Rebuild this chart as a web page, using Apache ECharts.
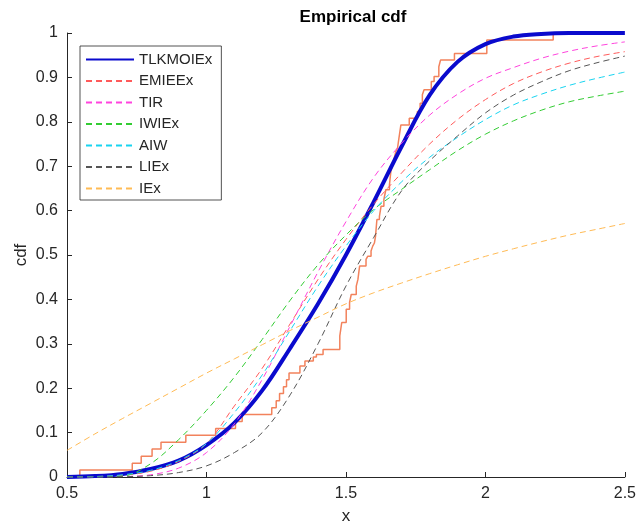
<!DOCTYPE html>
<html><head><meta charset="utf-8">
<script src="https://cdn.jsdelivr.net/npm/echarts@6/dist/echarts.min.js"></script>
<style>html,body{margin:0;padding:0;background:#fff}#c{width:639px;height:530px}</style>
</head><body><div id="c"></div>
<script>
// ---- data ----
const xGrid = [0.5,0.6,0.7,0.8,0.9,1.0,1.1,1.2,1.3,1.4,1.5,1.6,1.7,1.8,1.9,2.0,2.1,2.2,2.3,2.4,2.5];
const tlkmoiex = [0.000,0.002,0.007,0.018,0.037,0.072,0.122,0.195,0.290,0.390,0.500,0.620,0.745,0.860,0.935,0.975,0.992,0.998,1.0,1.0,1.0];
const emieex   = [0.000,0.001,0.004,0.013,0.035,0.075,0.160,0.245,0.345,0.445,0.535,0.615,0.685,0.750,0.805,0.850,0.886,0.912,0.932,0.947,0.958];
const tir      = [0.000,0.000,0.001,0.005,0.020,0.055,0.120,0.220,0.340,0.462,0.575,0.675,0.752,0.815,0.862,0.898,0.922,0.943,0.959,0.971,0.980];
const iwiex    = [0.000,0.000,0.002,0.030,0.084,0.150,0.225,0.310,0.398,0.478,0.545,0.603,0.648,0.692,0.735,0.772,0.802,0.826,0.845,0.858,0.869];
const aiw      = [0.000,0.001,0.005,0.015,0.037,0.075,0.145,0.230,0.330,0.430,0.520,0.600,0.665,0.720,0.765,0.805,0.838,0.862,0.882,0.898,0.912];
const liex     = [0.000,0.000,0.0005,0.003,0.010,0.025,0.055,0.100,0.185,0.300,0.430,0.540,0.645,0.712,0.768,0.820,0.860,0.890,0.915,0.933,0.948];
const iex      = [0.060,0.097,0.132,0.166,0.200,0.234,0.266,0.298,0.330,0.360,0.390,0.415,0.437,0.458,0.478,0.497,0.514,0.530,0.545,0.558,0.571];
// empirical cdf step points: x and cdf level after x
const ecdfX = [0.546,0.546,0.734,0.766,0.805,0.837,0.926,1.033,1.104,1.128,1.234,1.250,1.262,1.276,1.287,1.296,1.335,1.353,1.383,1.394,1.418,1.478,1.485,1.501,1.513,1.519,1.537,1.543,1.549,1.572,1.578,1.590,1.596,1.602,1.606,1.611,1.620,1.626,1.636,1.643,1.656,1.661,1.667,1.673,1.679,1.685,1.690,1.697,1.727,1.756,1.766,1.774,1.780,1.806,1.816,1.833,1.839,1.889,2.005,2.243];
const ecdfY = [0,0.016,0.031,0.047,0.063,0.078,0.094,0.109,0.125,0.141,0.156,0.172,0.188,0.203,0.219,0.234,0.250,0.261,0.270,0.276,0.287,0.318,0.348,0.378,0.393,0.411,0.430,0.445,0.475,0.490,0.497,0.509,0.520,0.527,0.542,0.580,0.587,0.610,0.625,0.647,0.658,0.688,0.703,0.718,0.733,0.741,0.763,0.793,0.808,0.823,0.842,0.861,0.872,0.891,0.902,0.924,0.939,0.954,0.984,1.000];
const legendNames = ['TLKMOIEx','EMIEEx','TIR','IWIEx','AIW','LIEx','IEx'];
const curveData = [tlkmoiex, emieex, tir, iwiex, aiw, liex, iex];
const colors = ['#0a0acd','#ff5a5a','#ff44dd','#33cc33','#18d4f0','#555555','#ffbb55'];

const FONT = "'Liberation Sans', Arial, Helvetica, sans-serif";
const TXT = '#262626';
function pairs(ys){ return xGrid.map((x,i)=>[x, ys[i]]); }

const series = [{
  name: 'ecdf', type: 'line', step: 'end', symbol: 'none', silent: true, z: 1,
  data: ecdfX.map((x,i)=>[x, ecdfY[i]]),
  lineStyle: {color: '#f2825c', width: 1.5}
}];
curveData.forEach((d,i)=>{
  series.push({
    name: legendNames[i], type: 'line', smooth: 0.35,
    symbol: 'none', showSymbol: false, z: i === 0 ? 2 : 3,
    data: pairs(d),
    itemStyle: {color: colors[i]},
    lineStyle: i === 0 ? {color: colors[i], width: 4} : {color: colors[i], width: 1, type: [6,4]}
  });
});

const chart = echarts.init(document.getElementById('c'), null, {renderer: 'canvas'});
chart.setOption({
  animation: false,
  backgroundColor: '#fff',
  textStyle: {fontFamily: FONT},
  title: {text: 'Empirical cdf', left: 348, textAlign: 'center', top: 4,
    textStyle: {fontFamily: FONT, fontSize: 17, fontWeight: 'bold', color: '#000'}},
  grid: {left: 67, right: 10, top: 33, bottom: 52},
  legend: {
    data: legendNames, orient: 'vertical', left: 80, top: 46,
    itemWidth: 48, itemHeight: 14, itemGap: 6.5,
    padding: [6, 9, 4, 5], borderColor: TXT, borderWidth: 0.8, backgroundColor: '#fff',
    itemStyle: {opacity: 0},
    lineStyle: {opacity: 1},
    textStyle: {fontFamily: FONT, fontSize: 15, color: TXT}, selectedMode: false
  },
  xAxis: {
    type: 'value', min: 0.5, max: 2.5, interval: 0.5,
    name: 'x', nameLocation: 'middle', nameGap: 31,
    nameTextStyle: {fontFamily: FONT, fontSize: 17, color: TXT},
    axisLine: {show: true, lineStyle: {color: TXT, width: 1}},
    axisTick: {show: true, inside: true, length: 5, lineStyle: {color: TXT}},
    axisLabel: {fontFamily: FONT, fontSize: 16, color: TXT, margin: 9},
    splitLine: {show: false}
  },
  yAxis: {
    type: 'value', min: 0, max: 1, interval: 0.1,
    name: 'cdf', nameLocation: 'middle', nameGap: 37, nameMoveOverlap: false,
    nameTextStyle: {fontFamily: FONT, fontSize: 17, color: TXT},
    axisLine: {show: true, lineStyle: {color: TXT, width: 1}},
    axisTick: {show: true, inside: true, length: 5, lineStyle: {color: TXT}},
    axisLabel: {fontFamily: FONT, fontSize: 16, color: TXT, margin: 9},
    splitLine: {show: false}
  },
  series: series
});
</script></body></html>
